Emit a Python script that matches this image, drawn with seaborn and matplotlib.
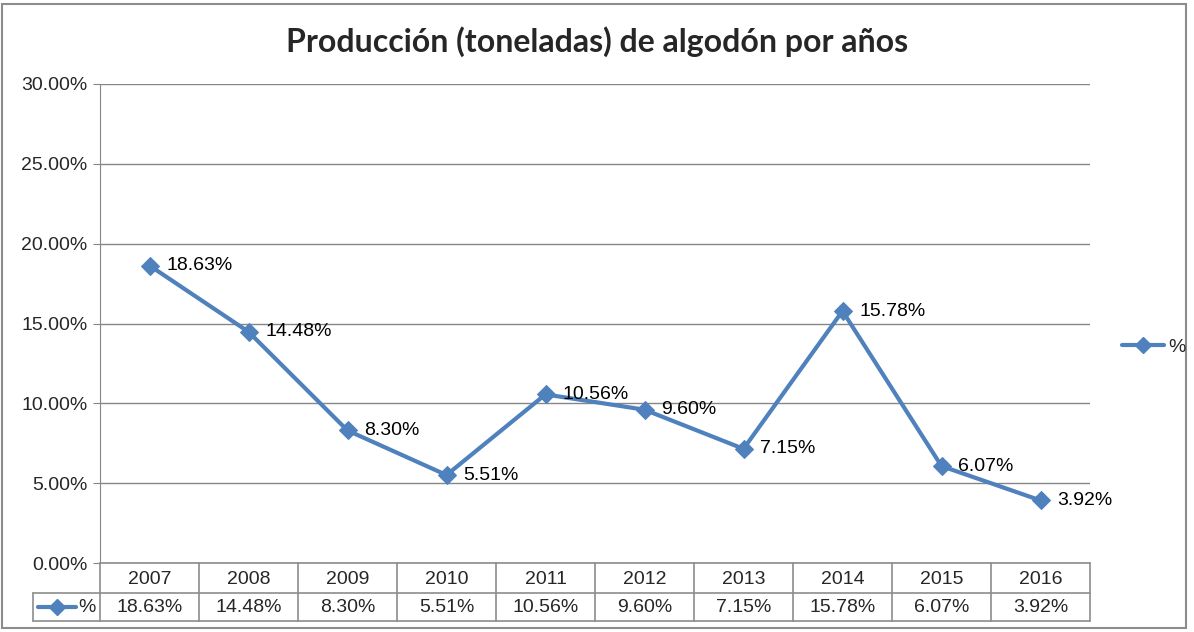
import numpy as np
import pandas as pd
import matplotlib
matplotlib.use("Agg")
import matplotlib.pyplot as plt
import seaborn as sns
from matplotlib.lines import Line2D
from matplotlib.patches import Rectangle

# datos
anios = ["2007", "2008", "2009", "2010", "2011", "2012", "2013", "2014", "2015", "2016"]
porcentajes = [18.63, 14.48, 8.30, 5.51, 10.56, 9.60, 7.15, 15.78, 6.07, 3.92]
serie = "%"
titulo = "Producción (toneladas) de algodón por años"

df = pd.DataFrame({"anio": np.arange(len(anios)), "valor": porcentajes})

sns.set_style("white")
plt.rcParams["font.family"] = ["Liberation Sans", "DejaVu Sans"]

W, H = 1194, 632
fig = plt.figure(figsize=(W / 100, H / 100), dpi=100)
azul = "#4F81BD"
gris = "#868686"
fs = 14

# borde de la figura
fig.patches.append(Rectangle((2 / W, 4 / H), 1184 / W, 624 / H, transform=fig.transFigure,
                             fill=False, edgecolor="#8c8c8c", linewidth=1.5))

x0, x1 = 100, 1090
y_top, y_bot = 84, 563
ax = fig.add_axes([x0 / W, (H - y_bot) / H, (x1 - x0) / W, (y_bot - y_top) / H])

sns.lineplot(data=df, x="anio", y="valor", ax=ax, color=azul, linewidth=3,
             marker="D", markersize=9.5, markeredgecolor=azul, label=serie, legend=False)

for xi, v in zip(df["anio"], df["valor"]):
    ax.annotate(f"{v:.2f}%", (xi, v), xytext=(12, 0), textcoords="offset points",
                ha="left", va="center", fontsize=fs, color="black")

ax.set_xlim(-0.5, len(anios) - 0.5)
ax.set_ylim(0, 30)
ax.set_yticks(np.arange(0, 31, 5))
ax.set_yticklabels([f"{t:.2f}%" for t in np.arange(0, 31, 5)], fontsize=fs)
ax.set_xticks([])
ax.set_xlabel("")
ax.set_ylabel("")
ax.grid(axis="y", color=gris, linewidth=1)
ax.set_axisbelow(True)
for s in ["top", "right", "bottom"]:
    ax.spines[s].set_visible(False)
ax.spines["left"].set_color(gris)
ax.tick_params(axis="y", length=5, color=gris, direction="out", left=True, pad=4)

fig.text(0.5, (H - 42) / H, titulo, ha="center", va="center", fontsize=23,
         fontweight="bold", family=["Lato", "DejaVu Sans"])

# leyenda a la derecha
key = Line2D([], [], color=azul, linewidth=3, marker="D", markersize=8)
fig.legend([key], [serie], loc="center left", bbox_to_anchor=(1104 / W, (H - 347) / H),
           frameon=False, fontsize=fs, handlelength=2.2, handletextpad=0.2)

# tabla de datos
t_left, t_mid, t_bot = 33, 593, 621
tab = fig.add_axes([0, 0, 1, 1], facecolor="none")
tab.set_xlim(0, W)
tab.set_ylim(H, 0)
tab.axis("off")
cw = (x1 - x0) / len(anios)
for i, (a, v) in enumerate(zip(anios, porcentajes)):
    cx = x0 + cw * (i + 0.5)
    tab.text(cx, (y_bot + t_mid) / 2 + 1, a, ha="center", va="center", fontsize=fs)
    tab.text(cx, (t_mid + t_bot) / 2 + 1, f"{v:.2f}%", ha="center", va="center", fontsize=fs)
lc = "#8c8c8c"
tab.plot([x0, x1], [y_bot, y_bot], color=lc, lw=1.2)
tab.plot([t_left, x1], [t_mid, t_mid], color=lc, lw=1.2)
tab.plot([t_left, x1], [t_bot, t_bot], color=lc, lw=1.2)
tab.plot([t_left, t_left], [t_mid, t_bot], color=lc, lw=1.2)
for i in range(len(anios) + 1):
    xx = x0 + cw * i
    tab.plot([xx, xx], [y_bot, t_bot], color=lc, lw=1.2)
tab.plot([38, 76], [(t_mid + t_bot) / 2] * 2, color=azul, lw=3)
tab.plot([57], [(t_mid + t_bot) / 2], marker="D", color=azul, markersize=8)
tab.text(78, (t_mid + t_bot) / 2 + 1, serie, ha="left", va="center", fontsize=fs)

fig.savefig("out.png", dpi=100)
